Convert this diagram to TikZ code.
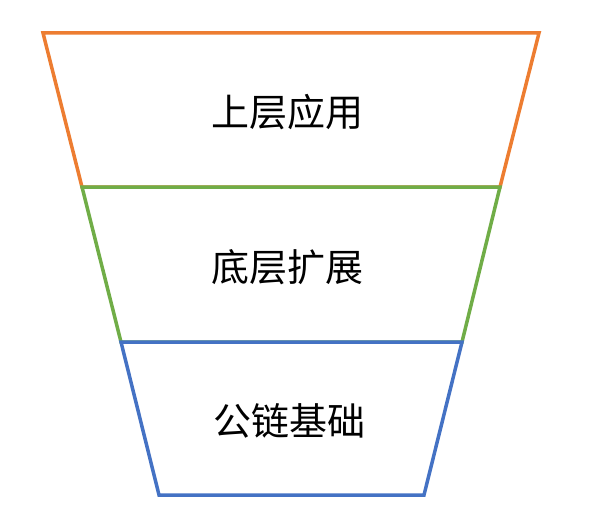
\documentclass[tikz,border=0pt]{standalone}
\usepackage{fontspec}
\newfontfamily\cjk{Noto Sans CJK SC}
\usepackage{xcolor}
\usepackage{tikz}
\definecolor{layerorange}{HTML}{ED7D31}
\definecolor{layergreen}{HTML}{70AD47}
\definecolor{layerblue}{HTML}{4472C4}

\begin{document}
\begin{tikzpicture}[x = 1pt, y = -1pt, line width = 3.5pt, line join = miter,
        layertext/.style = {font = \cjk\fontsize{38}{42}\selectfont}]
        \useasboundingbox (0, 0) rectangle (594, 532);

        \draw[layerorange] (43, 33) -- (539, 33) -- (500, 187) -- (82, 187) -- cycle;
        \draw[layergreen] (82, 187) -- (500, 187) -- (462, 342) -- (121, 342) -- cycle;
        \draw[layerblue] (121, 342) -- (462, 342) -- (424, 495) -- (159, 495) -- cycle;

        \node[layertext] (top) at (287, 112) {上层应用};
        \node[layertext] (mid) at (287, 267) {底层扩展};
        \node[layertext] (base) at (289, 421) {公链基础};
    \end{tikzpicture}
\end{document}
